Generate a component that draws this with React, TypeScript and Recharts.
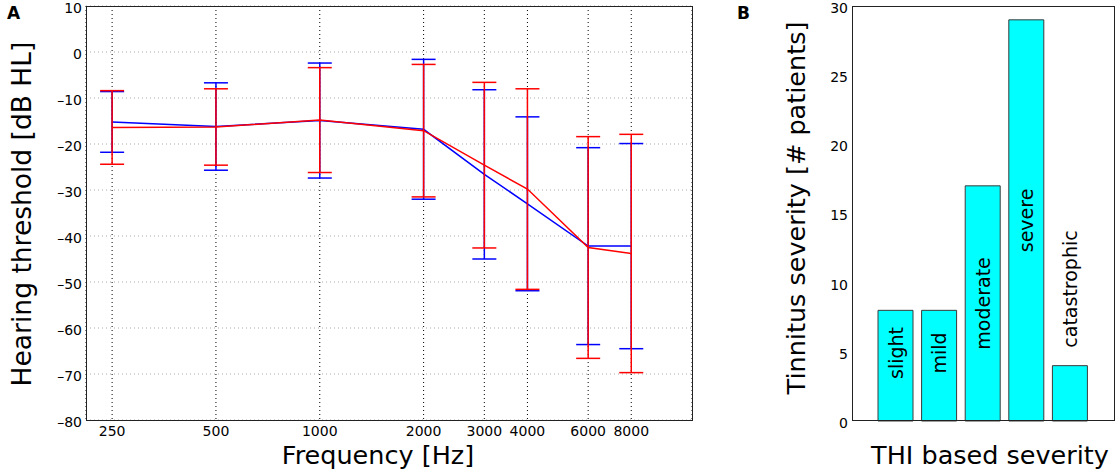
import React from 'react';
import {
  LineChart,
  Line,
  XAxis,
  YAxis,
  CartesianGrid,
  ErrorBar,
  BarChart,
  Bar,
  LabelList,
} from 'recharts';

// Panel A: audiogram, two groups (blue / red), mean +- sd per frequency
const frequencies = [250, 500, 1000, 2000, 3000, 4000, 6000, 8000];
const blueMean = [-15.2, -16.2, -14.9, -16.8, -26.6, -33.0, -42.2, -42.2];
const blueSd = [6.6, 9.5, 12.5, 15.2, 18.4, 18.9, 21.4, 22.3];
const redMean = [-16.4, -16.3, -14.8, -17.1, -24.6, -29.8, -42.5, -43.8];
const redSd = [8.0, 8.3, 11.4, 14.4, 18.0, 21.8, 24.1, 25.9];
const thresholdTicks = [10, 0, -10, -20, -30, -40, -50, -60, -70, -80];

// Panel B: THI based severity counts
const severityNames = ['slight', 'mild', 'moderate', 'severe', 'catastrophic'];
const severityCounts = [8, 8, 17, 29, 4];
const countTicks = [0, 5, 10, 15, 20, 25, 30];

const audiogram = frequencies.map((f, i) => ({
  f,
  blue: blueMean[i],
  blueErr: blueSd[i],
  red: redMean[i],
  redErr: redSd[i],
}));

const severity = severityNames.map((name, i) => ({ name, count: severityCounts[i] }));

const FONT = '"DejaVu Sans", sans-serif';
const LABEL_SIZE = 19;

// bar labels: rotated inside the bar, or above it when the bar is too short
const renderSeverityLabel = (props: any) => {
  const x = Number(props.x);
  const y = Number(props.y);
  const width = Number(props.width);
  const height = Number(props.height);
  const label = String(props.value);
  const cx = x + width / 2;
  const textLen = label.length * LABEL_SIZE * 0.55;
  const inside = textLen + 24 < height;
  const cy = inside ? Math.min(y + height / 2, y + height - 68) : y - 18;
  return (
    <text
      x={cx}
      y={cy}
      transform={`rotate(-90 ${cx} ${cy})`}
      textAnchor={inside ? 'middle' : 'start'}
      dominantBaseline="central"
      fontSize={LABEL_SIZE}
      fill="#000"
    >
      {label}
    </text>
  );
};

const frame = (left: number, top: number, width: number, height: number): React.CSSProperties => ({
  position: 'absolute',
  left,
  top,
  width,
  height,
  border: '1px solid #222',
  boxSizing: 'border-box',
  pointerEvents: 'none',
});

const signed = (v: number) => (v < 0 ? `\u2013${Math.abs(v)}` : String(v));

export default function App() {
  return (
    <div
      style={{
        position: 'absolute',
        left: 0,
        top: 0,
        width: 1116,
        height: 472,
        background: '#fff',
        fontFamily: FONT,
        overflow: 'hidden',
      }}
    >
      <div style={{ position: 'absolute', left: 0, top: 0 }}>
        <LineChart
          width={700}
          height={472}
          data={audiogram}
          margin={{ top: 6, right: 8, bottom: 22, left: 0 }}
        >
          <CartesianGrid vertical={false} stroke="#aaa" strokeDasharray="1 3" />
          <CartesianGrid horizontal={false} stroke="#000" strokeDasharray="1 3" />
          <XAxis
            dataKey="f"
            type="number"
            scale="log"
            domain={[210, 12000]}
            ticks={frequencies}
            interval={0}
            allowDataOverflow
            height={30}
            tickLine={false}
            axisLine={false}
            tickSize={4}
            tickMargin={2}
            tick={{ fontSize: 14, fill: '#000' }}
            tickFormatter={(v) => String(v)}
          />
          <YAxis
            type="number"
            domain={[-80, 10]}
            ticks={thresholdTicks}
            interval={0}
            width={86}
            tickLine={false}
            axisLine={false}
            tickSize={2}
            tickMargin={2}
            tick={{ fontSize: 14, fill: '#000', dy: 2 }}
            tickFormatter={signed}
          />
          <Line
            dataKey="blue"
            stroke="#0000ff"
            strokeWidth={1.5}
            dot={false}
            type="linear"
            isAnimationActive={false}
          >
            <ErrorBar dataKey="blueErr" direction="y" width={12} stroke="#0000ff" strokeWidth={1.5} />
          </Line>
          <Line
            dataKey="red"
            stroke="#ff0000"
            strokeWidth={1.5}
            dot={false}
            type="linear"
            isAnimationActive={false}
          >
            <ErrorBar dataKey="redErr" direction="y" width={12} stroke="#ff0000" strokeWidth={1.5} />
          </Line>
        </LineChart>
      </div>
      <div style={frame(86, 6, 607, 415)} />

      <div style={{ position: 'absolute', left: 760, top: 0 }}>
        <BarChart
          width={356}
          height={472}
          data={severity}
          margin={{ top: 6, right: 2, bottom: 51, left: 0 }}
        >
          <XAxis dataKey="name" hide padding={{ left: 22, right: 22 }} />
          <YAxis
            type="number"
            domain={[0, 30]}
            ticks={countTicks}
            interval={0}
            width={92}
            tickLine={false}
            axisLine={false}
            tickSize={2}
            tickMargin={2}
            tick={{ fontSize: 14, fill: '#000', dy: 2 }}
          />
          <Bar
            dataKey="count"
            fill="#00ffff"
            stroke="#3a3a3a"
            strokeWidth={1}
            barSize={35}
            isAnimationActive={false}
          >
            <LabelList dataKey="name" content={renderSeverityLabel} />
          </Bar>
        </BarChart>
      </div>
      <div style={frame(852, 6, 263, 415)} />

      <svg
        width={1116}
        height={472}
        style={{ position: 'absolute', left: 0, top: 0, pointerEvents: 'none' }}
        fontFamily={FONT}
      >
        <text x={7} y={19} fontSize={17} fontWeight="bold">A</text>
        <text
          x={21}
          y={214}
          transform="rotate(-90 21 214)"
          textAnchor="middle"
          dominantBaseline="central"
          fontSize={26.5}
        >
          Hearing threshold [dB HL]
        </text>
        <text x={378} y={464} textAnchor="middle" fontSize={25.5}>
          Frequency [Hz]
        </text>
        <text x={737} y={19} fontSize={17} fontWeight="bold">B</text>
        <text
          x={796}
          y={208}
          transform="rotate(-90 796 208)"
          textAnchor="middle"
          dominantBaseline="central"
          fontSize={25.5}
        >
          Tinnitus severity [# patients]
        </text>
        <text x={990} y={464} textAnchor="middle" fontSize={25.5}>
          THI based severity
        </text>
      </svg>
    </div>
  );
}
